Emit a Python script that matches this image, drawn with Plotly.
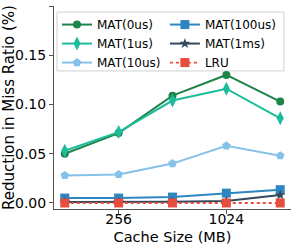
import plotly.graph_objects as go

cache_sizes = [128, 256, 512, 1024, 2048]
series_names = ["MAT(0us)", "MAT(1us)", "MAT(10us)", "MAT(100us)", "MAT(1ms)", "LRU"]
mat_0us = [0.050, 0.071, 0.109, 0.130, 0.103]
mat_1us = [0.053, 0.072, 0.104, 0.116, 0.086]
mat_10us = [0.028, 0.029, 0.040, 0.058, 0.048]
mat_100us = [0.005, 0.005, 0.006, 0.010, 0.0135]
mat_1ms = [0.001, 0.001, 0.0012, 0.002, 0.008]
lru = [0.0, 0.0, 0.0, 0.0, 0.0]
tick_vals = [256, 1024]
tick_text = ["256", "1024"]
y_ticks = [0.0, 0.05, 0.10, 0.15, 0.20]

values = [mat_0us, mat_1us, mat_10us, mat_100us, mat_1ms, lru]
colors = ["#1e8449", "#1abc9c", "#85c1e9", "#2e86c1", "#34495e", "#e74c3c"]
symbols = ["circle", "diamond-tall", "pentagon", "square", "star", "square"]
sizes = [8, 10, 9, 9, 8, 9]
dashes = ["solid", "solid", "solid", "solid", "solid", "dot"]
legend_ids = ["legend", "legend", "legend", "legend2", "legend2", "legend2"]

fig = go.Figure()
for name, vals, c, s, sz, d, lg in zip(series_names, values, colors, symbols, sizes, dashes, legend_ids):
    fig.add_trace(go.Scatter(
        x=cache_sizes, y=vals, name=name, mode="lines+markers",
        line=dict(color=c, width=2 if d == "solid" else 1.8, dash=d),
        marker=dict(symbol=s, size=sz, color=c, line=dict(width=0)),
        legend=lg,
    ))

legend_style = dict(
    orientation="v", yanchor="top", xanchor="left",
    font=dict(size=12, family="DejaVu Sans"),
    bgcolor="rgba(255,255,255,0)", borderwidth=0,
    itemwidth=30, tracegroupgap=0,
)

# legend frame
fig.add_shape(
    type="rect", xref="paper", yref="paper",
    x0=0.0127, x1=0.970, y0=0.68, y1=0.97,
    line=dict(color="#d0d0d0", width=1),
    fillcolor="rgba(255,255,255,0.8)", layer="below",
)

fig.update_layout(
    width=291, height=245,
    margin=dict(l=54, r=0, t=6, b=36),
    paper_bgcolor="white", plot_bgcolor="white",
    font=dict(family="DejaVu Sans", color="black", size=14),
    showlegend=True,
    legend=dict(x=0.0127, y=0.98, **legend_style),
    legend2=dict(x=0.468, y=0.98, **legend_style),
    xaxis=dict(
        type="log", range=[6.8 * 0.30103, 11.2 * 0.30103],
        tickvals=tick_vals, ticktext=tick_text,
        ticks="outside", ticklen=4, tickcolor="#555555",
        showline=True, linecolor="#555555", linewidth=1,
        showgrid=False, zeroline=False, automargin=False,
        tickfont=dict(size=14), ticklabelstandoff=-7,
        title=dict(text="Cache Size (MB)", font=dict(size=14.5), standoff=8),
    ),
    yaxis=dict(
        range=[-0.0061, 0.2], tickvals=y_ticks, tickformat=".2f",
        ticks="outside", ticklen=4, tickcolor="#555555",
        showline=True, linecolor="#555555", linewidth=1,
        showgrid=False, zeroline=False, automargin=False,
        tickfont=dict(size=14),
        title=dict(text="Reduction in Miss Ratio (%)", font=dict(size=15), standoff=2),
    ),
)

fig.write_html(
    "out.html",
    config={"displayModeBar": False},
    post_script="document.body.style.margin='0px';",
)
